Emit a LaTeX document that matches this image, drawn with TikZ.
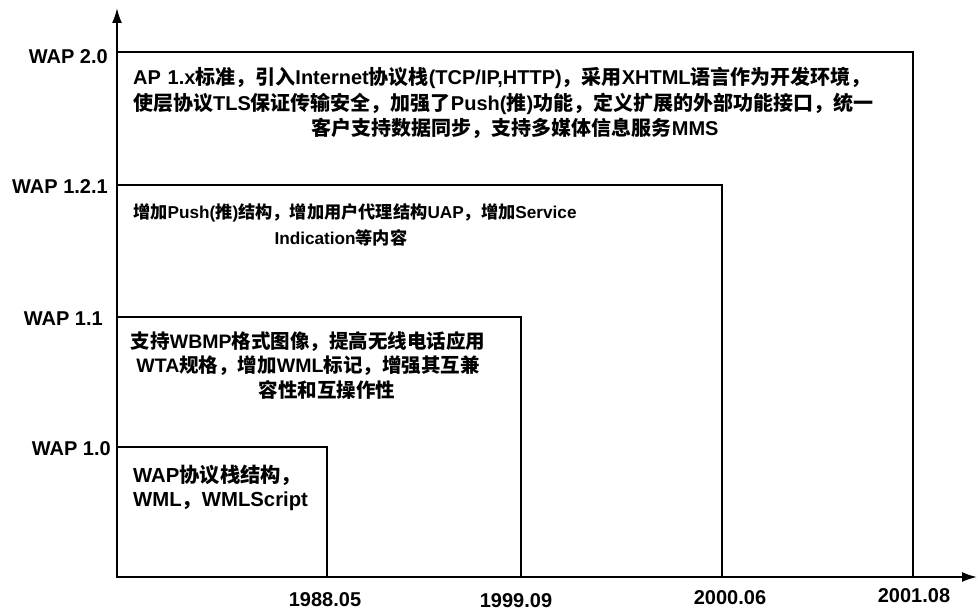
\documentclass[tikz,border=0pt]{standalone}
\usepackage{fontspec}
\setmainfont{Liberation Sans}
\newfontfamily\latf{Liberation Sans}
\newfontfamily\cjkf{Noto Sans CJK SC}
\usetikzlibrary{arrows.meta}
\XeTeXinterchartokenstate=1
\newXeTeXintercharclass\mycjk
\makeatletter
\count@="3000
\loop \XeTeXcharclass\count@=\mycjk \ifnum\count@<"303F \advance\count@ 1 \repeat
\count@="4E00
\loop \XeTeXcharclass\count@=\mycjk \ifnum\count@<"9FFF \advance\count@ 1 \repeat
\count@="FF00
\loop \XeTeXcharclass\count@=\mycjk \ifnum\count@<"FFEF \advance\count@ 1 \repeat
\makeatother
\XeTeXinterchartoks 0 \mycjk = {\cjkf}
\XeTeXinterchartoks 4095 \mycjk = {\cjkf}
\XeTeXinterchartoks \mycjk 0 = {\latf}
\XeTeXinterchartoks 4095 0 = {\latf}
\tikzset{
  box/.style={draw=black, line width=1.6pt},
  axis/.style={draw=black, line width=1.8pt, -{Latex[length=15pt,width=10pt]}},
  txt/.style={font=\bfseries\fontsize{19.5}{24.5}\selectfont, inner sep=0pt},
  lab/.style={font=\bfseries\fontsize{20}{22}\selectfont, inner sep=0pt},
}
\begin{document}
\begin{tikzpicture}[x=1pt,y=-1pt]
\path[fill=white] (0,0) rectangle (978,612);
\useasboundingbox (0,0) rectangle (978,612);
\coordinate (o) at (117,577);
\coordinate (ytip) at (117,8);
\coordinate (xtip) at (977,577);
% boxes
\coordinate (c20) at (913,52);
\coordinate (c121) at (722,185);
\coordinate (c11) at (521,317);
\coordinate (c10) at (327,447);
\draw[box] (o) rectangle (c20);
\draw[box] (o) rectangle (c121);
\draw[box] (o) rectangle (c11);
\draw[box] (o) rectangle (c10);
% axes
\draw[axis] (o) -- (ytip);
\draw[axis] (o) -- (xtip);
% version labels
\node[lab, anchor=east] (l20) at (108,57) {WAP 2.0};
\node[lab, anchor=east] (l121) at (108,187) {WAP 1.2.1};
\node[lab, anchor=east] (l11) at (103,319) {WAP 1.1};
\node[lab, anchor=east] (l10) at (111,449) {WAP 1.0};
% date labels
\node[lab] (d1) at (325,600) {1988.05};
\node[lab] (d2) at (516,601) {1999.09};
\node[lab] (d3) at (730,598) {2000.06};
\node[lab] (d4) at (914,596) {2001.08};
% texts
\node[txt, font=\bfseries\fontsize{20}{25.5}\selectfont, text width=764pt, align=left, anchor=west] (t20) at (133,103) {AP 1.x标准，引入Internet协议栈(TCP/IP,HTTP)，采用XHTML语言作为开发环境，\\使层协议TLS保证传输安全，加强了Push(推)功能，定义扩展的外部功能接口，统一\\\makebox[\linewidth][c]{客户支持数据同步，支持多媒体信息服务MMS}};
\node[txt, font=\bfseries\fontsize{17.2}{25.5}\selectfont, align=center, anchor=west] (t121) at (133,225) {增加Push(推)结构，增加用户代理结构UAP，增加Service\\\hspace*{-28pt}Indication等内容};
\node[txt, align=center] (t11) at (308,365) {支持WBMP格式图像，提高无线电话应用\\WTA规格，增加WML标记，增强其互兼\\\hspace*{38pt}容性和互操作性};
\node[txt, font=\bfseries\fontsize{20.3}{24}\selectfont, align=left, anchor=north west] (t10) at (133,465) {WAP协议栈结构，\\WML，WMLScript};
\end{tikzpicture}
\end{document}
